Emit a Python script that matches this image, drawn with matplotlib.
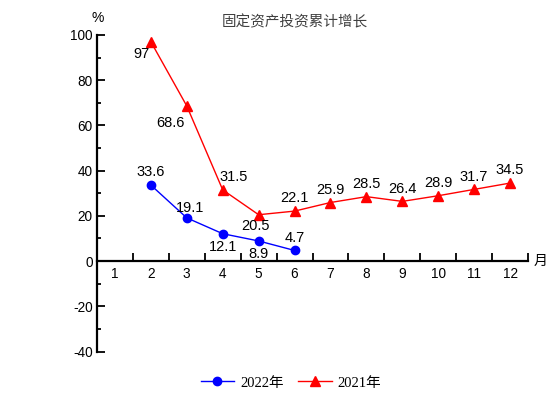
import matplotlib
matplotlib.use("Agg")
import matplotlib.pyplot as plt
from matplotlib.ticker import MultipleLocator, FixedLocator

months_2022 = [2, 3, 4, 5, 6]
values_2022 = [33.6, 19.1, 12.1, 8.9, 4.7]
months_2021 = [2, 3, 4, 5, 6, 7, 8, 9, 10, 11, 12]
values_2021 = [97, 68.6, 31.5, 20.5, 22.1, 25.9, 28.5, 26.4, 28.9, 31.7, 34.5]
xticklabels = [str(m) for m in range(1, 13)]
title = "固定资产投资累计增长"

plt.rcParams['font.family'] = ['Liberation Sans', 'Noto Sans CJK SC', 'DejaVu Sans']
plt.rcParams['axes.unicode_minus'] = False

W, H = 558, 395
fig = plt.figure(figsize=(W / 100, H / 100), dpi=100)
ax = fig.add_axes([97 / W, 1 - 351.5 / H, (528 - 97) / W, (351.5 - 35) / H])

ax.plot(months_2022, values_2022, color='#0000ff', lw=1.0, marker='o', ms=6,
        label='2022年', zorder=3)
ax.plot(months_2021, values_2021, color='#ff0000', lw=1.0, marker='^', ms=7,
        label='2021年', zorder=3)

ax.set_xlim(0.5, 12.5)
ax.set_ylim(-40, 100)

for s in ['top', 'right']:
    ax.spines[s].set_visible(False)
ax.spines['bottom'].set_position(('data', 0))
ax.spines['left'].set_linewidth(1.6)
ax.spines['bottom'].set_linewidth(1.6)

ax.yaxis.set_major_locator(MultipleLocator(20))
ax.yaxis.set_minor_locator(MultipleLocator(10))
ax.tick_params(axis='y', which='major', direction='in', length=6, width=1.3, labelsize=9.8, pad=3)
ax.tick_params(axis='y', which='minor', direction='in', length=3, width=1.3)

ax.xaxis.set_major_locator(FixedLocator([m + 0.5 for m in range(1, 13)]))
ax.tick_params(axis='x', which='major', direction='in', length=6, width=1.3, labelbottom=False)
for i, lab in enumerate(xticklabels):
    ax.text(i + 1, -2.8, lab, ha='center', va='top', fontsize=9.8)

# data labels
lab_fs = 10.5
off_2022 = [(0, 2.5, 'center', 'bottom'), (0.1, 1.5, 'center', 'bottom'),
            (0, -3.0, 'center', 'top'), (0, -2.5, 'center', 'top'),
            (0, 2.5, 'center', 'bottom')]
for m, v, (dx, dy, ha, va) in zip(months_2022, values_2022, off_2022):
    ax.text(m + dx, v + dy, f"{v:g}", ha=ha, va=va, fontsize=lab_fs)

off_2021 = [(-0.25, -2.5, 'center', 'top'), (-0.45, -4.5, 'center', 'top'),
            (0.3, 2.5, 'center', 'bottom'), (-0.1, -2.0, 'center', 'top'),
            (0, 2.5, 'center', 'bottom')] + [(0, 2.5, 'center', 'bottom')] * 6
for m, v, (dx, dy, ha, va) in zip(months_2021, values_2021, off_2021):
    ax.text(m + dx, v + dy, f"{v:g}", ha=ha, va=va, fontsize=lab_fs)

fig.text(98 / W, 1 - 18 / H, '%', ha='center', va='center', fontsize=10)
fig.text(541 / W, 1 - 261 / H, '月', ha='center', va='center', fontsize=10,
         family=['Noto Sans CJK SC'])
fig.text(295 / W, 1 - 22 / H, title, ha='center', va='center', fontsize=10.5,
         color='#404040', family=['Noto Sans CJK SC'])

leg = fig.legend(loc='center', bbox_to_anchor=(291 / W, 1 - 383 / H), ncol=2,
                 frameon=False, handlelength=2.3, columnspacing=1.0, handletextpad=0.4,
                 prop={'family': ['Liberation Serif', 'Noto Sans CJK SC'], 'size': 10.5})

fig.savefig('out.png', dpi=100)
